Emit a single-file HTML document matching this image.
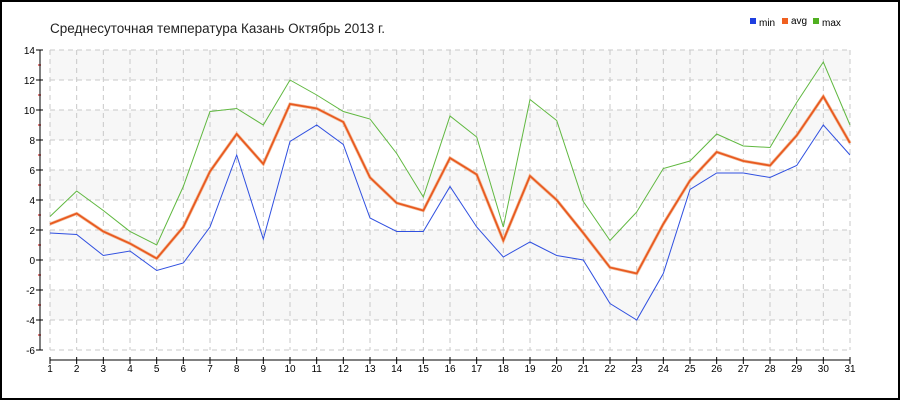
<!DOCTYPE html>
<html><head><meta charset="utf-8"><style>
body{margin:0;background:#fff}
svg{display:block;font-family:"Liberation Sans",sans-serif}
</style></head><body>
<svg id="s" width="900" height="400" xmlns="http://www.w3.org/2000/svg">
<rect x="1" y="1" width="898" height="398" fill="#fff" stroke="#000" stroke-width="2"/>
<text x="50" y="33" font-size="13.5" fill="#222" textLength="335">Среднесуточная температура Казань  Октябрь 2013 г.</text>
<rect x="750" y="18" width="6" height="6" fill="#1f3fe0"/><text x="759" y="26" font-size="10">min</text>
<rect x="782" y="18" width="6" height="6" fill="#f06020"/><text x="791" y="24" font-size="10">avg</text>
<rect x="813" y="18" width="6" height="6" fill="#50b020"/><text x="822" y="26" font-size="10">max</text>
<g id="g"></g>
</svg>
<script>
var g=document.getElementById('g'),h='';
function X(d){return 50+(d-1)*800/30}
function Y(v){return 260-v*15}
[-4,0,4,8,12].forEach(function(v){h+='<rect x="50" y="'+Y(v+2)+'" width="800" height="30" fill="#f7f7f7"/>'});
for(var v=-6;v<=14;v+=2){h+='<line x1="50" x2="850" y1="'+Y(v)+'" y2="'+Y(v)+'" stroke="#c8c8c8" stroke-dasharray="5,4"/>';
h+='<line x1="36" x2="43" y1="'+Y(v)+'" y2="'+Y(v)+'" stroke="#000"/><text x="35" y="'+(Y(v)+4)+'" font-size="10" text-anchor="end">'+v+'</text>';
if(v<14)h+='<line x1="38" x2="41" y1="'+Y(v+1)+'" y2="'+Y(v+1)+'" stroke="#d00000"/>';}
h+='<line x1="40" x2="40" y1="50" y2="350" stroke="#000"/>';
h+='<line x1="50" x2="850" y1="360" y2="360" stroke="#000"/>';
for(var d=1;d<=31;d++){h+='<line x1="'+X(d)+'" x2="'+X(d)+'" y1="50" y2="350" stroke="#c8c8c8" stroke-dasharray="5,4"/>';
h+='<line x1="'+X(d)+'" x2="'+X(d)+'" y1="357" y2="364" stroke="#000"/><text x="'+X(d)+'" y="372" font-size="10" text-anchor="middle">'+d+'</text>';}
var mn=[1.8,1.7,0.3,0.6,-0.7,-0.2,2.2,7.0,1.4,7.9,9.0,7.7,2.8,1.9,1.9,4.9,2.2,0.2,1.2,0.3,0.0,-2.9,-4.0,-0.9,4.7,5.8,5.8,5.5,6.3,9.0,7.0];
var av=[2.4,3.1,1.9,1.1,0.1,2.2,5.9,8.4,6.4,10.4,10.1,9.2,5.5,3.8,3.3,6.8,5.7,1.3,5.6,4.0,1.8,-0.5,-0.9,2.4,5.3,7.2,6.6,6.3,8.3,10.9,7.8];
var mx=[2.9,4.6,3.3,1.9,1.0,4.9,9.9,10.1,9.0,12.0,11.0,9.9,9.4,7.1,4.2,9.6,8.2,2.2,10.7,9.3,3.9,1.3,3.2,6.1,6.6,8.4,7.6,7.5,10.5,13.2,9.0];
function P(a){return a.map(function(v,i){return X(i+1).toFixed(1)+','+Y(v).toFixed(1)}).join(' ')}
h+='<polyline points="'+P(mn)+'" fill="none" stroke="#3050e0" stroke-width="1"/>';
h+='<polyline points="'+P(mx)+'" fill="none" stroke="#60b840" stroke-width="1"/>';
h+='<polyline points="'+P(av)+'" fill="none" stroke="#f4c0a0" stroke-width="3.2"/>';
h+='<polyline points="'+P(av)+'" fill="none" stroke="#e85a20" stroke-width="1.8"/>';
g.innerHTML=h;
</script>
</body></html>
